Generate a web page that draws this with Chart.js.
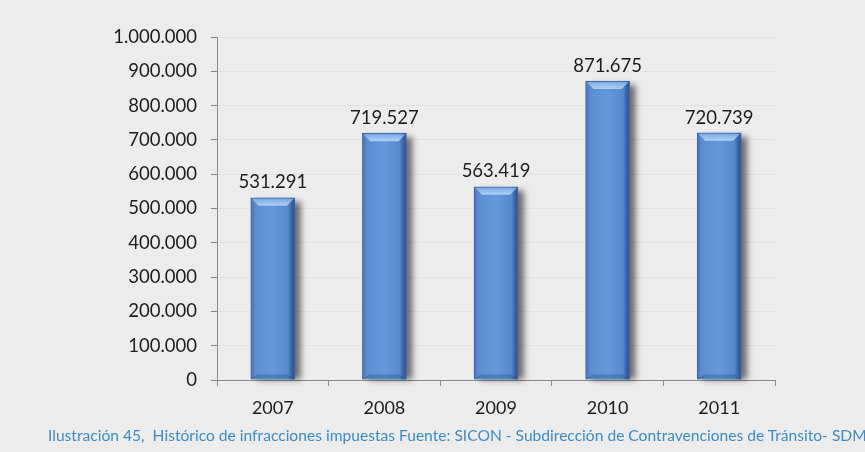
<!DOCTYPE html>
<html>
<head>
<meta charset="utf-8">
<script src="https://cdn.jsdelivr.net/npm/chart.js@4/dist/chart.umd.min.js"></script>
<style>
  html, body { margin: 0; padding: 0; background: #ececec; }
  #wrap { position: relative; width: 865px; height: 452px; overflow: hidden; }
  #caption {
    position: absolute; left: 48px; top: 426px; white-space: nowrap;
    font-family: Lato, "Open Sans", sans-serif; font-size: 15.6px; color: #3d8cc8;
  }
</style>
</head>
<body>
<div id="wrap">
  <canvas id="chart" width="865" height="452"></canvas>
  <div id="caption">Ilustración 45,&nbsp; Histórico de infracciones impuestas Fuente: SICON - Subdirección de Contravenciones de Tránsito- SDM</div>
</div>
<script>
// datos
const years = ['2007', '2008', '2009', '2010', '2011'];
const infracciones = [531291, 719527, 563419, 871675, 720739];
const yMax = 1000000;
const yStep = 100000;
const barW = 44;

// formato con punto de miles
function fmt(v) {
  return String(Math.round(v)).replace(/\B(?=(\d{3})+(?!\d))/g, '.');
}

// degradado horizontal de la barra (posición sacada de la escala x)
function barFill(context) {
  const chart = context.chart;
  const xs = chart.scales && chart.scales.x;
  if (!chart.chartArea || !xs) return '#5b8fd2';
  const cx = xs.getPixelForValue(context.dataIndex);
  const g = chart.ctx.createLinearGradient(cx - barW / 2, 0, cx + barW / 2, 0);
  g.addColorStop(0, '#4273b8');
  g.addColorStop(0.1, '#5a8ed2');
  g.addColorStop(0.5, '#6498da');
  g.addColorStop(0.85, '#5589cd');
  g.addColorStop(0.92, '#3a67a8');
  g.addColorStop(1, '#2a4f88');
  return g;
}

// sombra a la derecha de cada barra
const shadowPlugin = {
  id: 'shadow',
  beforeDatasetsDraw(chart) {
    const c = chart.ctx;
    const meta = chart.getDatasetMeta(0);
    c.save();
    c.filter = 'blur(3px)';
    c.fillStyle = 'rgba(0,0,0,0.55)';
    meta.data.forEach(bar => {
      const l = bar.x - bar.width / 2;
      c.fillRect(l + 6, bar.y + 4, bar.width, bar.base - bar.y - 4);
    });
    c.restore();
  }
};

// bisel superior y etiquetas de valor
const labelPlugin = {
  id: 'valueLabels',
  afterDatasetsDraw(chart) {
    const c = chart.ctx;
    const meta = chart.getDatasetMeta(0);
    c.save();
    meta.data.forEach((bar, i) => {
      const w = bar.width;
      const l = bar.x - w / 2, r = bar.x + w / 2;
      const g = c.createLinearGradient(0, bar.y, 0, bar.y + 8);
      g.addColorStop(0, 'rgba(120,165,225,0.9)');
      g.addColorStop(1, 'rgba(190,220,250,0.85)');
      c.fillStyle = g;
      c.beginPath();
      c.moveTo(l + 1, bar.y + 1);
      c.lineTo(r - 1, bar.y + 1);
      c.lineTo(r - 8, bar.y + 8);
      c.lineTo(l + 8, bar.y + 8);
      c.closePath();
      c.fill();
      // bisel inferior
      c.fillStyle = 'rgba(40,80,140,0.35)';
      c.beginPath();
      c.moveTo(l + 1, bar.base - 1);
      c.lineTo(r - 1, bar.base - 1);
      c.lineTo(r - 6, bar.base - 5);
      c.lineTo(l + 6, bar.base - 5);
      c.closePath();
      c.fill();

      c.fillStyle = '#1e1e1e';
      c.font = '18.5px Lato, "Open Sans", sans-serif';
      c.textAlign = 'center';
      c.textBaseline = 'bottom';
      c.fillText(fmt(infracciones[i]), bar.x, bar.y - 6);
    });
    c.restore();
  }
};

new Chart(document.getElementById('chart'), {
  type: 'bar',
  data: {
    labels: years,
    datasets: [{
      data: infracciones,
      backgroundColor: barFill,
      borderColor: '#3a66a6',
      borderWidth: 1,
      barThickness: barW
    }]
  },
  options: {
    responsive: false,
    animation: false,
    layout: { padding: { top: 37, right: 90, left: 0, bottom: 0 } },
    plugins: { legend: { display: false }, tooltip: { enabled: false } },
    scales: {
      x: {
        grid: { display: true, drawOnChartArea: false, tickLength: 6, tickColor: '#8a8a8a', offset: true },
        border: { color: '#8a8a8a' },
        ticks: { color: '#1e1e1e', padding: 11, font: { size: 18, family: 'Lato, "Open Sans", sans-serif' } },
        afterFit(scale) { scale.height = 72; }
      },
      y: {
        min: 0,
        max: yMax,
        ticks: {
          stepSize: yStep,
          color: '#1e1e1e',
          padding: 14,
          font: { size: 18.5, family: 'Lato, "Open Sans", sans-serif' },
          callback: v => fmt(v)
        },
        grid: { color: '#e2e2e2', tickLength: 6, tickColor: '#8a8a8a' },
        border: { color: '#8a8a8a' },
        afterFit(scale) { scale.width = 217; }
      }
    }
  },
  plugins: [shadowPlugin, labelPlugin]
});
</script>
</body>
</html>
